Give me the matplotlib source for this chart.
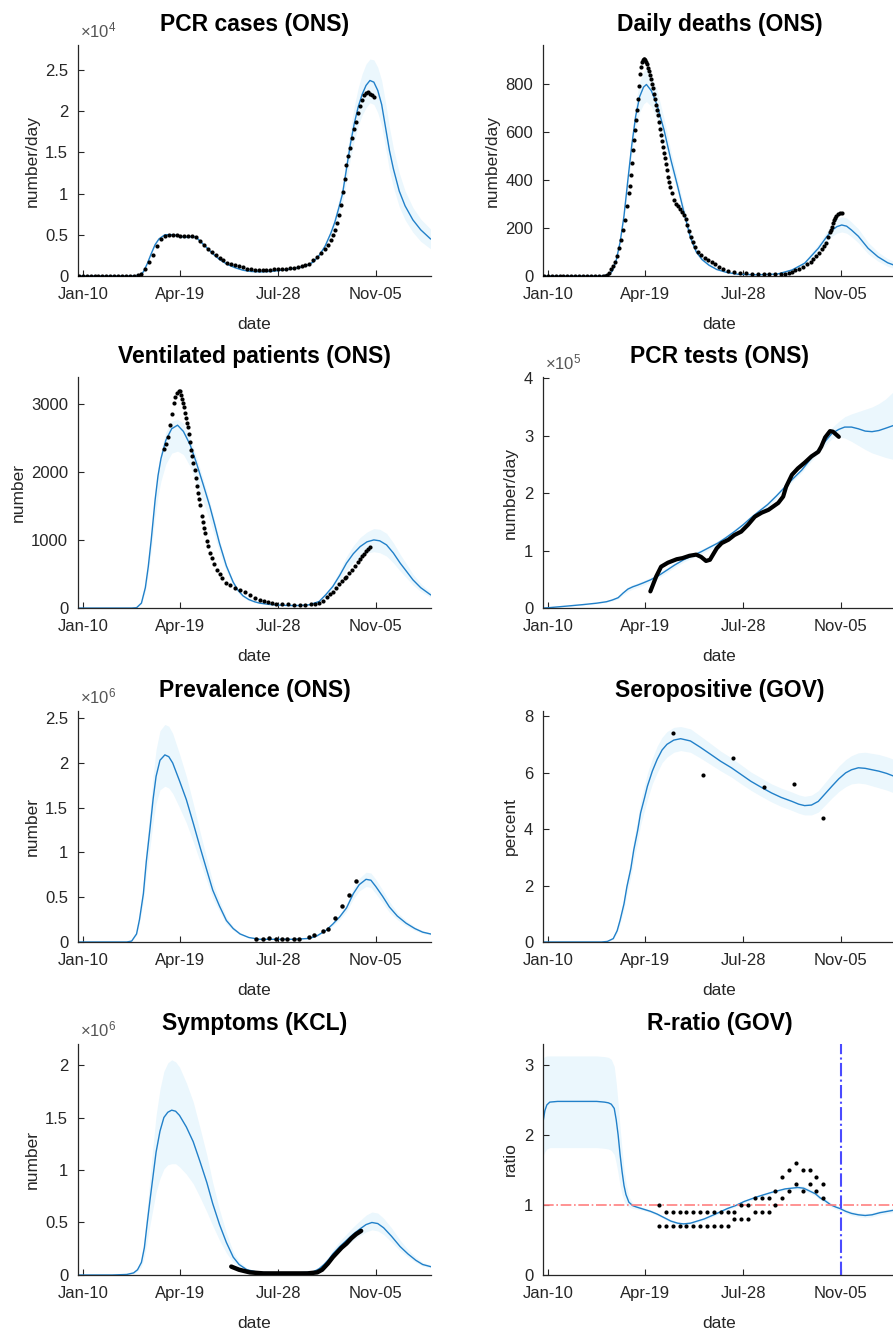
import numpy as np
import matplotlib.pyplot as plt

plt.rcParams['font.family'] = ['Liberation Sans', 'DejaVu Sans']
plt.rcParams['mathtext.fontset'] = 'custom'
plt.rcParams['mathtext.rm'] = 'Liberation Sans'

# x axis is days since 10 Jan 2020
tick_days = [0, 100, 200, 300]
tick_labels = ['Jan-10', 'Apr-19', 'Jul-28', 'Nov-05']

# ---- PCR cases (x1e4) ----
case_days = [-5, 50, 58, 62, 66, 70, 74, 78, 84, 92, 100, 106, 112, 116, 122, 128, 134, 140, 148, 156,
             164, 172, 182, 192, 200, 210, 220, 228, 236, 242, 248, 254, 258, 262, 266, 270, 274, 278, 282, 286,
             290, 294, 298, 302, 306, 310, 314, 318, 324, 330, 338, 346, 356]
case_fit = [0, 0, 0.01, 0.05, 0.15, 0.27, 0.38, 0.45, 0.5, 0.5, 0.48, 0.47, 0.48, 0.47, 0.4, 0.33, 0.26, 0.2, 0.14, 0.1,
            0.07, 0.055, 0.05, 0.055, 0.065, 0.08, 0.1, 0.12, 0.17, 0.25, 0.36, 0.52, 0.65, 0.82, 1.0, 1.3, 1.6, 1.85, 2.05, 2.2,
            2.31, 2.37, 2.35, 2.25, 2.08, 1.8, 1.52, 1.3, 1.03, 0.85, 0.68, 0.56, 0.45]
case_lo = [0, 0, 0.01, 0.04, 0.14, 0.26, 0.37, 0.44, 0.49, 0.48, 0.46, 0.45, 0.46, 0.45, 0.38, 0.31, 0.25, 0.19, 0.13, 0.09,
           0.065, 0.05, 0.045, 0.05, 0.06, 0.075, 0.09, 0.11, 0.16, 0.23, 0.33, 0.47, 0.58, 0.73, 0.89, 1.15, 1.42, 1.64, 1.82, 1.95,
           2.04, 2.1, 2.08, 1.98, 1.82, 1.55, 1.28, 1.08, 0.84, 0.68, 0.53, 0.42, 0.33]
case_hi = [0, 0, 0.01, 0.06, 0.16, 0.28, 0.39, 0.47, 0.52, 0.52, 0.5, 0.49, 0.5, 0.49, 0.42, 0.35, 0.27, 0.21, 0.15, 0.11,
           0.075, 0.06, 0.055, 0.06, 0.07, 0.085, 0.11, 0.13, 0.18, 0.27, 0.39, 0.57, 0.72, 0.91, 1.11, 1.45, 1.78, 2.06, 2.28, 2.45,
           2.57, 2.63, 2.62, 2.53, 2.37, 2.1, 1.8, 1.55, 1.25, 1.03, 0.83, 0.69, 0.57]
case_obs_days = list(range(-4, 249, 4)) + [251, 254] + list(range(256, 299, 2))
case_obs = [0, 0, 0, 0, 0, 0, 0, 0, 0, 0, 0, 0, 0, 0, 0,
            0.01, 0.03, 0.09, 0.17, 0.25, 0.36, 0.45, 0.49, 0.5, 0.5,
            0.5, 0.49, 0.48, 0.49, 0.49, 0.47, 0.43, 0.38, 0.33, 0.29,
            0.25, 0.22, 0.19, 0.16, 0.15, 0.13, 0.12, 0.11, 0.09, 0.08,
            0.07, 0.07, 0.07, 0.07, 0.07, 0.08, 0.08, 0.09, 0.09, 0.1,
            0.1, 0.11, 0.12, 0.13, 0.15, 0.19, 0.23, 0.28, 0.33,
            0.37, 0.44,
            0.5, 0.56, 0.64, 0.74, 0.86, 1.02, 1.18, 1.35, 1.46, 1.55, 1.67, 1.78, 1.87, 1.97, 2.06, 2.13,
            2.19, 2.22, 2.23, 2.21, 2.19, 2.17]

# ---- Daily deaths ----
death_days = [-5, 55, 62, 66, 70, 74, 78, 82, 86, 90, 94, 98, 101, 106, 112, 119, 126, 133, 140, 146,
              152, 158, 165, 173, 183, 195, 215, 235, 250, 263, 277, 285, 291, 296, 301, 306, 311, 318, 328, 338,
              348, 356]
death_fit = [0, 0, 5, 20, 65, 140, 250, 400, 545, 665, 745, 785, 796, 770, 710, 607, 483, 372, 255, 160,
             100, 68, 45, 27, 15, 7, 5, 8, 25, 53, 115, 160, 190, 205, 212, 207, 191, 165, 115, 80,
             55, 43]
death_lo = [0, 0, 4, 18, 60, 130, 235, 375, 505, 610, 680, 715, 725, 705, 650, 560, 445, 345, 235, 150,
            92, 62, 41, 24, 13, 6, 4, 6, 20, 45, 100, 140, 165, 178, 183, 178, 163, 138, 92, 62,
            40, 30]
death_hi = [0, 0, 6, 22, 70, 150, 265, 425, 585, 715, 810, 850, 862, 835, 770, 655, 520, 400, 280, 190,
            125, 85, 58, 32, 19, 8, 6, 10, 30, 62, 132, 182, 218, 238, 246, 241, 224, 196, 140, 100,
            72, 58]
death_obs_days = list(range(-4, 57, 4)) + [
    59, 61, 63, 65, 67, 69, 71, 73, 75, 77, 79, 81, 83, 84, 85, 86, 87, 88, 89, 90,
    91, 92, 93, 94, 95, 96, 97, 98, 99, 100, 101, 102, 103, 104, 105, 106, 107, 108, 109, 110,
    111, 112, 113, 114, 115, 116, 117, 118, 119, 120, 121, 122, 123, 124, 125, 127, 129, 131, 133, 135,
    137, 139, 141, 143, 145, 147, 149, 151, 154, 157, 161, 164, 168, 171, 175, 179, 185, 191, 197, 203,
    209, 215, 221, 227, 233, 239, 243, 247, 250, 253, 257, 261, 265, 269, 272, 275, 278, 281, 283, 285,
    287, 289, 290, 291, 292, 293, 294, 295, 297, 299, 301]
death_obs = [0, 0, 0, 0, 0, 0, 0, 0, 0, 0, 0, 0, 0, 0, 0, 0,
             2, 5, 12, 28, 42, 58, 85, 115, 150, 193, 232, 290, 345, 372, 420, 470, 524, 565, 607, 650,
             690, 735, 790, 841, 870, 890, 898, 903, 903, 898, 890, 880, 865, 850, 835, 818, 800, 780, 758, 735,
             710, 690, 668, 640, 610, 585, 560, 535, 510, 490, 465, 440, 412, 390, 370, 343, 315, 300, 290, 280,
             268, 252, 235, 212, 188, 163, 140, 120, 101, 87, 73, 66, 59, 50, 39, 30, 22, 17, 13, 11,
             9, 8, 7, 7, 7, 8, 9, 13, 18, 24, 31, 39, 50, 60, 70, 82, 94, 112, 124, 136,
             160, 182, 191, 205, 220, 232, 242, 250, 256, 260, 263]

# ---- Ventilated patients ----
vent_days = [-5, 50, 55, 60, 64, 67, 70, 74, 77, 80, 85, 91, 97, 103, 110, 116, 123, 130, 135, 140,
             147, 154, 159, 164, 170, 176, 181, 190, 198, 210, 222, 232, 242, 249, 256, 263, 270, 277, 284, 291,
             298, 304, 311, 318, 325, 332, 338, 346, 356]
vent_fit = [0, 0, 5, 73, 300, 610, 1000, 1590, 1950, 2200, 2470, 2640, 2692, 2600, 2400, 2150, 1830, 1500, 1230, 950,
            620, 380, 260, 180, 125, 92, 73, 55, 45, 38, 38, 48, 97, 200, 318, 480, 661, 800, 905, 975,
            1003, 990, 930, 810, 661, 530, 416, 300, 196]
vent_lo = [0, 0, 4, 60, 250, 510, 840, 1340, 1650, 1870, 2120, 2280, 2310, 2260, 2080, 1850, 1570, 1290, 1060, 820,
           540, 330, 225, 155, 108, 80, 64, 48, 39, 33, 33, 41, 82, 170, 270, 405, 555, 670, 755, 810,
           830, 815, 765, 665, 545, 435, 340, 245, 160]
vent_hi = [0, 0, 6, 80, 320, 650, 1060, 1680, 2050, 2320, 2590, 2750, 2780, 2720, 2500, 2240, 1910, 1570, 1290, 1000,
           650, 400, 275, 190, 132, 98, 80, 60, 50, 42, 42, 55, 112, 230, 365, 550, 760, 920, 1040, 1120,
           1170, 1160, 1100, 960, 790, 635, 500, 360, 235]
vent_obs_days = [83, 85, 87, 89, 91, 93, 94, 96, 98, 99, 101, 102, 103, 104, 105, 106, 107, 108, 109, 110,
                 111, 112, 113, 115, 116, 117, 118, 119, 120, 122, 123, 124, 125, 127, 128, 130, 132, 134, 137, 140,
                 143, 147, 151, 156, 161, 166, 171, 176, 181, 186, 190, 194, 198, 204, 210, 216, 222, 228, 234, 238,
                 242, 246, 250, 253, 256, 259, 262, 265, 268, 270, 273, 276, 279, 282, 284, 286, 288, 290, 292, 294]
vent_obs = [2340, 2420, 2520, 2700, 2863, 3020, 3107, 3170, 3195, 3190, 3132, 3080, 3020, 2960, 2870, 2800, 2720, 2667, 2560, 2440,
            2325, 2240, 2140, 2031, 1920, 1800, 1689, 1605, 1520, 1350, 1270, 1185, 1101, 990, 920, 808, 730, 650, 562, 500,
            440, 367, 335, 300, 269, 230, 190, 155, 122, 100, 85, 72, 63, 58, 55, 50, 48, 50, 55, 62,
            73, 110, 160, 200, 240, 300, 350, 400, 440, 464, 510, 560, 620, 680, 720, 760, 800, 840, 870, 905]

# ---- PCR tests (x1e5) ----
test_days = [-5, 0, 10, 20, 36, 50, 60, 66, 72, 77, 82, 87, 92, 98, 105, 113, 122, 130, 139, 148,
             157, 166, 174, 182, 191, 200, 208, 216, 225, 234, 243, 251, 260, 268, 277, 284, 291, 298, 304, 311,
             318, 325, 332, 339, 346, 356]
test_fit = [0.0, 0.005, 0.02, 0.035, 0.06, 0.085, 0.11, 0.14, 0.18, 0.26, 0.33, 0.37, 0.4, 0.44, 0.49, 0.56, 0.66, 0.75, 0.84, 0.91,
            0.98, 1.06, 1.13, 1.22, 1.33, 1.45, 1.57, 1.68, 1.8, 1.95, 2.11, 2.25, 2.4, 2.57, 2.75, 2.9, 3.04, 3.11, 3.15, 3.15,
            3.12, 3.08, 3.07, 3.09, 3.13, 3.19]
test_lo = [0, 0.004, 0.017, 0.03, 0.05, 0.075, 0.1, 0.125, 0.16, 0.23, 0.29, 0.33, 0.36, 0.4, 0.45, 0.52, 0.62, 0.71, 0.8, 0.87,
           0.94, 1.02, 1.09, 1.18, 1.29, 1.41, 1.53, 1.64, 1.76, 1.91, 2.07, 2.21, 2.36, 2.52, 2.69, 2.83, 2.95, 2.98, 2.96, 2.9,
           2.83, 2.76, 2.7, 2.66, 2.62, 2.58]
test_hi = [0, 0.006, 0.023, 0.04, 0.07, 0.095, 0.12, 0.155, 0.2, 0.29, 0.37, 0.41, 0.44, 0.48, 0.53, 0.6, 0.7, 0.79, 0.88, 0.95,
           1.02, 1.1, 1.17, 1.26, 1.37, 1.49, 1.61, 1.72, 1.84, 1.99, 2.15, 2.29, 2.44, 2.62, 2.81, 2.98, 3.14, 3.25, 3.33, 3.38,
           3.42, 3.46, 3.5, 3.56, 3.64, 3.8]
test_obs_days = [105, 111, 116, 123, 132, 138, 145, 152, 157, 162, 166, 173, 178, 185, 191, 198, 205, 212, 219, 226,
                 236, 241, 244, 250, 256, 263, 270, 277, 280, 284, 289, 292, 298]
test_obs = [0.29, 0.55, 0.72, 0.79, 0.85, 0.87, 0.91, 0.93, 0.89, 0.82, 0.84, 1.04, 1.13, 1.19, 1.27, 1.33, 1.45, 1.59, 1.66, 1.71,
            1.83, 1.94, 2.11, 2.32, 2.43, 2.53, 2.64, 2.72, 2.81, 2.97, 3.08, 3.07, 2.98]

# ---- Prevalence (x1e6) ----
prev_days = [-5, 45, 50, 55, 58, 62, 65, 69, 72, 75, 79, 84, 88, 92, 99, 106, 113, 120, 127, 133,
             140, 147, 154, 161, 170, 181, 195, 216, 232, 240, 249, 256, 263, 270, 277, 283, 290, 295, 300, 307,
             314, 322, 331, 340, 348, 356]
prev_fit = [0, 0, 0.01, 0.09, 0.25, 0.54, 0.9, 1.29, 1.6, 1.85, 2.03, 2.09, 2.07, 2.0, 1.8, 1.59, 1.33, 1.06, 0.8, 0.58,
            0.4, 0.24, 0.15, 0.09, 0.05, 0.03, 0.03, 0.03, 0.04, 0.07, 0.13, 0.2, 0.28, 0.38, 0.54, 0.64, 0.7, 0.69, 0.62, 0.51,
            0.39, 0.29, 0.21, 0.15, 0.11, 0.09]
prev_lo = [0, 0, 0.01, 0.08, 0.21, 0.45, 0.75, 1.08, 1.34, 1.55, 1.7, 1.74, 1.72, 1.66, 1.5, 1.33, 1.12, 0.9, 0.68, 0.49,
           0.34, 0.2, 0.13, 0.08, 0.045, 0.027, 0.027, 0.027, 0.037, 0.064, 0.12, 0.18, 0.25, 0.34, 0.48, 0.57, 0.62, 0.61, 0.54, 0.44,
           0.33, 0.25, 0.18, 0.13, 0.095, 0.08]
prev_hi = [0, 0, 0.01, 0.1, 0.29, 0.63, 1.05, 1.5, 1.86, 2.15, 2.36, 2.43, 2.41, 2.33, 2.1, 1.85, 1.55, 1.23, 0.93, 0.67,
           0.46, 0.28, 0.17, 0.1, 0.055, 0.033, 0.033, 0.033, 0.043, 0.076, 0.14, 0.22, 0.31, 0.42, 0.6, 0.71, 0.78, 0.77, 0.7, 0.58,
           0.45, 0.33, 0.24, 0.17, 0.125, 0.1]
prev_obs_days = [177, 184, 191, 198, 204, 209, 216, 221, 232, 237, 246, 251, 258, 265, 273, 280]
prev_obs = [0.03, 0.03, 0.045, 0.03, 0.03, 0.03, 0.03, 0.03, 0.056, 0.075, 0.12, 0.14, 0.27, 0.40, 0.52, 0.68]

# ---- Seropositive (percent) ----
sero_days = [-5, 55, 61, 67, 71, 74, 78, 81, 85, 88, 92, 95, 99, 102, 107, 112, 117, 122, 129, 136,
             146, 156, 167, 177, 188, 198, 208, 219, 229, 239, 250, 257, 263, 270, 277, 284, 291, 298, 305, 311,
             318, 325, 332, 339, 347, 356]
sero_fit = [0, 0, 0.02, 0.12, 0.4, 0.77, 1.35, 1.96, 2.6, 3.26, 3.95, 4.57, 5.1, 5.52, 6.05, 6.47, 6.8, 7.0, 7.15, 7.2,
            7.12, 6.9, 6.64, 6.4, 6.17, 5.93, 5.69, 5.47, 5.28, 5.12, 4.98, 4.88, 4.83, 4.85, 4.98, 5.25, 5.52, 5.78, 5.99, 6.1,
            6.17, 6.15, 6.1, 6.05, 5.97, 5.85]
sero_lo = [0, 0, 0.015, 0.1, 0.33, 0.65, 1.15, 1.7, 2.3, 2.9, 3.55, 4.15, 4.65, 5.05, 5.6, 6.0, 6.35, 6.55, 6.72, 6.78,
           6.72, 6.52, 6.28, 6.06, 5.84, 5.6, 5.37, 5.15, 4.96, 4.8, 4.66, 4.56, 4.5, 4.5, 4.6, 4.85, 5.1, 5.33, 5.5, 5.6,
           5.63, 5.6, 5.53, 5.46, 5.38, 5.26]
sero_hi = [0, 0, 0.025, 0.14, 0.47, 0.9, 1.55, 2.22, 2.9, 3.62, 4.35, 5.0, 5.55, 5.98, 6.5, 6.94, 7.25, 7.45, 7.6, 7.63,
           7.55, 7.3, 7.02, 6.76, 6.52, 6.27, 6.02, 5.8, 5.6, 5.45, 5.31, 5.21, 5.16, 5.2, 5.36, 5.65, 5.94, 6.23, 6.46, 6.6,
           6.7, 6.72, 6.68, 6.64, 6.56, 6.45]
sero_obs_days = [128, 159, 190, 221, 252, 282]
sero_obs = [7.4, 5.9, 6.5, 5.5, 5.6, 4.4]

# ---- Symptoms (x1e6) ----
symp_days = [-5, 30, 45, 52, 56, 60, 63, 66, 69, 72, 75, 79, 83, 87, 91, 95, 99, 106, 113, 120,
             127, 133, 140, 147, 154, 160, 168, 180, 200, 220, 236, 242, 247, 252, 256, 263, 270, 277, 284, 290,
             296, 302, 308, 316, 325, 333, 341, 348, 356]
symp_fit = [0, 0, 0.005, 0.02, 0.05, 0.12, 0.26, 0.5, 0.73, 0.95, 1.17, 1.37, 1.5, 1.55, 1.57, 1.56, 1.52, 1.41, 1.27, 1.08,
            0.88, 0.68, 0.48, 0.31, 0.17, 0.1, 0.05, 0.025, 0.02, 0.02, 0.03, 0.06, 0.1, 0.15, 0.2, 0.27, 0.33, 0.39, 0.44, 0.48,
            0.5, 0.49, 0.45, 0.37, 0.27, 0.2, 0.14, 0.1, 0.08]
symp_lo = [0, 0, 0.003, 0.013, 0.033, 0.08, 0.17, 0.33, 0.49, 0.64, 0.79, 0.92, 1.01, 1.05, 1.06, 1.06, 1.03, 0.96, 0.87, 0.74,
           0.6, 0.47, 0.33, 0.21, 0.12, 0.07, 0.035, 0.018, 0.015, 0.015, 0.025, 0.05, 0.085, 0.13, 0.17, 0.23, 0.28, 0.33, 0.375, 0.41,
           0.43, 0.42, 0.385, 0.315, 0.23, 0.17, 0.12, 0.085, 0.068]
symp_hi = [0, 0, 0.007, 0.027, 0.067, 0.16, 0.34, 0.65, 0.95, 1.24, 1.52, 1.77, 1.94, 2.02, 2.05, 2.03, 1.98, 1.83, 1.65, 1.4,
           1.14, 0.88, 0.62, 0.4, 0.22, 0.13, 0.065, 0.033, 0.026, 0.026, 0.036, 0.072, 0.12, 0.18, 0.24, 0.32, 0.39, 0.46, 0.52, 0.57,
           0.6, 0.59, 0.54, 0.45, 0.33, 0.24, 0.17, 0.12, 0.095]
symp_obs_days = [152, 160, 171, 185, 200, 215, 230, 240, 245, 251, 256, 260, 265, 270, 275, 280, 285]
symp_obs = [0.08, 0.05, 0.025, 0.015, 0.015, 0.015, 0.015, 0.025, 0.05, 0.11, 0.17, 0.21, 0.26, 0.3, 0.35, 0.39, 0.42]

# ---- R-ratio ----
r_days = [-5, -3, -1, 2, 10, 30, 50, 58, 62, 65, 68, 70, 72, 74, 76, 78, 80, 83, 87, 91,
          98, 105, 112, 119, 126, 133, 139, 146, 153, 160, 170, 184, 192, 201, 215, 229, 243, 256, 262, 268,
          274, 279, 284, 290, 295, 299, 305, 311, 318, 325, 332, 340, 348, 356]
r_fit = [2.18, 2.35, 2.43, 2.47, 2.48, 2.48, 2.48, 2.47, 2.46, 2.44, 2.38, 2.22, 2.0, 1.72, 1.48, 1.28, 1.15, 1.04, 0.99, 0.97,
         0.94, 0.91, 0.87, 0.82, 0.77, 0.74, 0.73, 0.74, 0.77, 0.8, 0.86, 0.95, 0.99, 1.05, 1.12, 1.18, 1.23, 1.25, 1.24, 1.2,
         1.16, 1.1, 1.06, 1.0, 0.97, 0.95, 0.91, 0.88, 0.86, 0.85, 0.86, 0.89, 0.91, 0.93]
r_lo = [1.7, 1.76, 1.8, 1.82, 1.82, 1.82, 1.82, 1.81, 1.8, 1.78, 1.72, 1.6, 1.45, 1.28, 1.15, 1.06, 1.0, 0.97, 0.95, 0.94,
        0.92, 0.89, 0.85, 0.8, 0.75, 0.72, 0.71, 0.72, 0.75, 0.78, 0.84, 0.93, 0.97, 1.03, 1.1, 1.16, 1.21, 1.22, 1.21, 1.17,
        1.13, 1.07, 1.03, 0.97, 0.94, 0.92, 0.88, 0.85, 0.83, 0.82, 0.83, 0.86, 0.88, 0.9]
r_hi = [3.1, 3.12, 3.13, 3.13, 3.13, 3.13, 3.13, 3.12, 3.11, 3.08, 2.98, 2.75, 2.45, 2.1, 1.8, 1.52, 1.32, 1.12, 1.03, 1.0,
        0.96, 0.93, 0.89, 0.84, 0.79, 0.76, 0.75, 0.76, 0.79, 0.82, 0.88, 0.97, 1.01, 1.07, 1.14, 1.2, 1.25, 1.28, 1.27, 1.23,
        1.19, 1.13, 1.09, 1.03, 1.0, 0.98, 0.94, 0.91, 0.89, 0.88, 0.89, 0.92, 0.94, 0.96]
r_obs_days = [114 + 7 * k for k in range(25)]
r_obs_lo = [0.7, 0.7, 0.7, 0.7, 0.7, 0.7, 0.7, 0.7, 0.7, 0.7, 0.7,
            0.8, 0.8, 0.8, 0.9, 0.9, 0.9, 1.0, 1.1, 1.2, 1.3, 1.2, 1.3, 1.2, 1.1]
r_obs_hi = [1.0, 0.9, 0.9, 0.9, 0.9, 0.9, 0.9, 0.9, 0.9, 0.9, 0.9,
            0.9, 1.0, 1.0, 1.1, 1.1, 1.1, 1.2, 1.4, 1.5, 1.6, 1.5, 1.5, 1.4, 1.3]

LINE = '#2180c9'
BAND = '#ebf7fd'
AXC = '#262626'

fig = plt.figure(figsize=(8.93, 13.32), dpi=100)
col_x = [0.0873, 0.608]
row_y = [0.7928, 0.5435, 0.2928, 0.0428]
W, H = 0.3953, 0.1734


def panel(r, c, title, ylabel, ylim, yticks, exp=None):
    ax = fig.add_axes([col_x[c], row_y[r], W, H])
    ax.set_xlim(-5, 356.5)
    ax.set_ylim(*ylim)
    ax.set_xticks(tick_days)
    ax.set_xticklabels(tick_labels)
    ax.set_yticks(yticks)
    ax.set_yticklabels(['%g' % v for v in yticks])
    for s in ['top', 'right']:
        ax.spines[s].set_visible(False)
    for s in ['left', 'bottom']:
        ax.spines[s].set_color(AXC)
        ax.spines[s].set_linewidth(0.9)
    ax.tick_params(direction='in', length=4, width=0.8, colors=AXC, labelsize=12)
    ax.tick_params(axis='x', pad=8)
    ax.tick_params(axis='y', pad=7)
    ax.set_title(title, fontsize=16.5, fontweight='bold', pad=10)
    ax.set_xlabel('date', fontsize=12.5, color=AXC, labelpad=11)
    ax.set_ylabel(ylabel, fontsize=12.5, color=AXC, labelpad=4)
    if exp is not None:
        ax.text(0.005, 1.02, r'$\mathregular{\times10^{%d}}$' % exp, transform=ax.transAxes,
                ha='left', va='bottom', fontsize=12, color='#555555')
    return ax


def fit(ax, d, y, lo, hi):
    ax.fill_between(d, lo, hi, color=BAND, lw=0, zorder=1)
    ax.plot(d, y, color=LINE, lw=1.0, zorder=2)


def dots(ax, d, y, ms=3.0):
    ax.plot(d, y, 'o', color='k', ms=ms, mew=0, zorder=3)


ax = panel(0, 0, 'PCR cases (ONS)', 'number/day', (0, 2.8), [0, 0.5, 1, 1.5, 2, 2.5], 4)
fit(ax, case_days, case_fit, case_lo, case_hi)
dots(ax, case_obs_days, case_obs)

ax = panel(0, 1, 'Daily deaths (ONS)', 'number/day', (0, 960), [0, 200, 400, 600, 800])
fit(ax, death_days, death_fit, death_lo, death_hi)
dots(ax, death_obs_days, death_obs)

ax = panel(1, 0, 'Ventilated patients (ONS)', 'number', (0, 3400), [0, 1000, 2000, 3000])
fit(ax, vent_days, vent_fit, vent_lo, vent_hi)
dots(ax, vent_obs_days, vent_obs)

ax = panel(1, 1, 'PCR tests (ONS)', 'number/day', (0, 4.02), [0, 1, 2, 3, 4], 5)
fit(ax, test_days, test_fit, test_lo, test_hi)
ax.plot(test_obs_days, test_obs, color='k', lw=3.0, solid_capstyle='round', solid_joinstyle='round', zorder=3)

ax = panel(2, 0, 'Prevalence (ONS)', 'number', (0, 2.58), [0, 0.5, 1, 1.5, 2, 2.5], 6)
fit(ax, prev_days, prev_fit, prev_lo, prev_hi)
dots(ax, prev_obs_days, prev_obs, 3.2)

ax = panel(2, 1, 'Seropositive (GOV)', 'percent', (0, 8.18), [0, 2, 4, 6, 8])
fit(ax, sero_days, sero_fit, sero_lo, sero_hi)
dots(ax, sero_obs_days, sero_obs, 3.0)

ax = panel(3, 0, 'Symptoms (KCL)', 'number', (0, 2.2), [0, 0.5, 1, 1.5, 2], 6)
fit(ax, symp_days, symp_fit, symp_lo, symp_hi)
ax.plot(symp_obs_days, symp_obs, color='k', lw=3.2, solid_capstyle='round', solid_joinstyle='round', zorder=3)

ax = panel(3, 1, 'R-ratio (GOV)', 'ratio', (0, 3.3), [0, 1, 2, 3])
fit(ax, r_days, r_fit, r_lo, r_hi)
ax.axhline(1, color='#ff8080', lw=1.2, ls='-.', zorder=2.5)
ax.axvline(300, color='#4b4bff', lw=1.5, ls='-.', zorder=2.5)
dots(ax, r_obs_days, r_obs_lo, 3.0)
dots(ax, r_obs_days, r_obs_hi, 3.0)

fig.savefig('out.png', dpi=100)
